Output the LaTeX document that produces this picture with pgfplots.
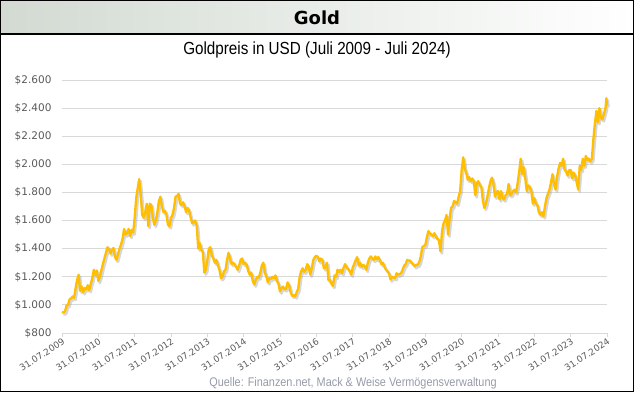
\documentclass[border=0pt]{standalone}
\usepackage{fontspec}
\usepackage{pgfplots}
\pgfplotsset{compat=1.18}
\usepackage{pgfplotstable}
\setmainfont{Liberation Sans}
\newfontfamily\dejavu{DejaVu Sans}
\newfontfamily\narrowfont[FakeStretch=0.87]{Liberation Sans}
\definecolor{goldline}{RGB}{255,190,0}
\definecolor{headgreen}{RGB}{210,218,210}
\definecolor{ticktext}{RGB}{89,89,89}
\definecolor{gridgray}{RGB}{217,217,217}
\definecolor{srcgray}{RGB}{150,155,168}

\pgfplotstableread{
m p
0 950
0.5 945
1 955
1.5 995
2 1000
2.5 1040
3 1045
3.5 1060
4 1050
4.5 1120
5 1180
5.5 1215
6 1100
6.5 1130
7 1090
7.5 1120
8 1110
8.5 1140
9 1105
9.5 1150
10 1190
10.5 1250
11 1215
11.5 1245
12 1170
12.5 1200
13 1245
13.5 1290
14 1330
14.5 1370
15 1410
15.5 1400
16 1365
16.5 1390
17 1405
17.5 1340
18 1320
18.5 1360
19 1400
19.5 1430
20 1470
20.5 1540
21 1500
21.5 1510
22 1540
22.5 1490
23 1535
23.5 1515
24 1620
24.5 1760
25 1830
25.5 1895
26 1780
26.5 1640
27 1620
27.5 1660
28 1720
28.5 1560
29 1720
29.5 1710
30 1620
30.5 1570
31 1600
31.5 1660
32 1740
32.5 1770
33 1700
33.5 1660
34 1670
34.5 1640
35 1570
35.5 1560
36 1620
36.5 1640
37 1690
37.5 1770
38 1775
38.5 1790
39 1720
39.5 1710
40 1730
40.5 1700
41 1660
41.5 1690
42 1670
42.5 1620
43 1580
43.5 1590
44 1600
44.5 1560
45 1400
45.5 1440
46 1390
46.5 1380
47 1230
47.5 1250
48 1320
48.5 1400
49 1410
49.5 1350
50 1330
50.5 1300
51 1320
51.5 1280
52 1250
52.5 1190
53 1200
53.5 1240
54 1250
54.5 1320
55 1370
55.5 1330
56 1290
56.5 1300
57 1290
57.5 1270
58 1250
58.5 1280
59 1320
59.5 1330
60 1290
60.5 1300
61 1285
61.5 1240
62 1215
62.5 1230
63 1170
63.5 1145
64 1180
64.5 1200
65 1195
65.5 1230
66 1280
66.5 1300
67 1230
67.5 1200
68 1160
68.5 1190
69 1185
69.5 1200
70 1190
70.5 1210
71 1170
71.5 1150
72 1095
72.5 1120
73 1130
73.5 1110
74 1115
74.5 1160
75 1140
75.5 1090
76 1065
76.5 1070
77 1060
77.5 1090
78 1115
78.5 1200
79 1240
79.5 1260
80 1235
80.5 1250
81 1290
81.5 1270
82 1215
82.5 1260
83 1320
83.5 1340
84 1350
84.5 1340
85 1310
85.5 1330
86 1320
86.5 1260
87 1270
87.5 1300
88 1175
88.5 1180
89 1150
89.5 1135
90 1210
90.5 1200
91 1250
91.5 1235
92 1250
92.5 1225
93 1265
93.5 1290
94 1270
94.5 1255
95 1240
95.5 1215
96 1265
96.5 1290
97 1320
97.5 1340
98 1280
98.5 1300
99 1270
99.5 1285
100 1275
100.5 1250
101 1300
101.5 1330
102 1345
102.5 1330
103 1320
103.5 1345
104 1325
104.5 1340
105 1315
105.5 1290
106 1300
106.5 1270
107 1250
107.5 1240
108 1225
108.5 1180
109 1200
109.5 1195
110 1190
110.5 1225
111 1215
111.5 1220
112 1225
112.5 1250
113 1280
113.5 1290
114 1320
114.5 1315
115 1315
115.5 1300
116 1290
116.5 1275
117 1285
117.5 1285
118 1305
118.5 1345
119 1410
119.5 1420
120 1425
120.5 1480
121 1525
121.5 1510
122 1500
122.5 1490
123 1510
123.5 1485
124 1470
124.5 1460
125 1380
125.5 1520
126 1580
126.5 1600
127 1640
127.5 1500
128 1610
128.5 1690
129 1700
129.5 1740
130 1730
130.5 1720
131 1770
131.5 1810
132 1960
132.5 2050
133 1970
133.5 1940
134 1890
134.5 1910
135 1880
135.5 1900
136 1880
136.5 1780
137 1870
137.5 1880
138 1850
138.5 1840
139 1740
139.5 1690
140 1720
140.5 1770
141 1830
141.5 1880
142 1905
142.5 1860
143 1770
143.5 1800
144 1810
144.5 1750
145 1810
145.5 1760
146 1750
146.5 1780
147 1790
147.5 1860
148 1780
148.5 1790
149 1810
149.5 1820
150 1800
150.5 1870
151 1950
151.5 2040
152 1930
152.5 1980
153 1900
153.5 1810
154 1850
154.5 1840
155 1810
155.5 1720
156 1760
156.5 1720
157 1710
157.5 1660
158 1640
158.5 1660
159 1630
159.5 1700
160 1760
160.5 1790
161 1820
161.5 1870
162 1930
162.5 1860
163 1820
163.5 1910
164 1970
164.5 2010
165 1990
165.5 2040
166 1960
166.5 1950
167 1920
167.5 1960
168 1960
168.5 1900
169 1940
169.5 1920
170 1870
170.5 1820
171 1990
171.5 1960
172 2040
172.5 1990
173 2060
173.5 2030
174 2040
174.5 2020
175 2040
175.5 2180
176 2290
176.5 2380
177 2300
177.5 2400
178 2330
178.5 2320
179 2360
179.5 2400
179.8 2470
180 2420
}\gold

\begin{document}
\begin{tikzpicture}[x=1pt,y=1pt]
\useasboundingbox (0,0) rectangle (634,392);
% header band
\shade[left color=headgreen, right color=white] (0,358) rectangle (634,392);
\draw[line width=1.2pt] (0,358) -- (634,358);
\node[font=\dejavu\bfseries\fontsize{18}{20}\selectfont] at (317,374) {Gold};
\node[font=\narrowfont\fontsize{17.5}{20}\selectfont] at (317,342) {Goldpreis in USD (Juli 2009 - Juli 2024)};
\node[font=\narrowfont\fontsize{12.5}{14}\selectfont, text=srcgray] at (353,9) {Quelle: Finanzen.net, Mack \& Weise Vermögensverwaltung};

\begin{axis}[
  at={(62pt,59pt)}, anchor=south west,
  scale only axis, width=545pt, height=253pt,
  xmin=0, xmax=180, ymin=800, ymax=2600,
  axis line style={draw=none},
  ymajorgrids, grid style={gridgray, line width=0.8pt},
  ytick={800,1000,...,2600},
  yticklabels={\$800,\$1.000,\$1.200,\$1.400,\$1.600,\$1.800,\$2.000,\$2.200,\$2.400,\$2.600},
  xtick={0,12,...,180},
  xticklabels={31.07.2009,31.07.2010,31.07.2011,31.07.2012,31.07.2013,31.07.2014,31.07.2015,31.07.2016,31.07.2017,31.07.2018,31.07.2019,31.07.2020,31.07.2021,31.07.2022,31.07.2023,31.07.2024},
  ytick style={draw=none},
  xtick style={draw=gridgray, line width=0.8pt},
  xtick pos=bottom, tick align=outside, major tick length=4pt,
  yticklabel style={font=\dejavu\fontsize{10.5}{12}\selectfont, text=ticktext, xshift=-3pt},
  xticklabel style={font=\dejavu\fontsize{9}{10}\selectfont, text=ticktext, rotate=33, anchor=north east, inner sep=0.5pt},
  clip=false,
]
\addplot[draw=black!35, opacity=0.45, line width=2.6pt, line join=round, xshift=1.5pt, yshift=-2pt] table[x=m,y=p] {\gold};
\addplot[draw=goldline, line width=2.3pt, line join=round] table[x=m,y=p] {\gold};
\end{axis}
\draw[line width=1pt] (0.5,0.5) rectangle (633.5,391.5);
\end{tikzpicture}
\end{document}
